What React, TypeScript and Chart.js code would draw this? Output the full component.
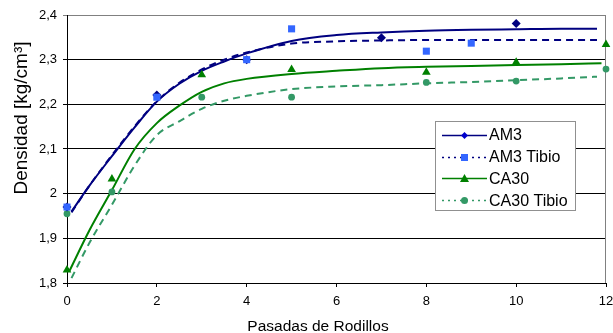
import React, { useEffect, useRef } from "react";
import { Chart, registerables } from "chart.js";

Chart.register(...registerables);

// ---- Data ----
const xTicks = [0, 2, 4, 6, 8, 10, 12];
const yTicks = [1.8, 1.9, 2.0, 2.1, 2.2, 2.3, 2.4];

const am3X = [0, 2, 4, 7, 10];
const am3Y = [1.97, 2.221, 2.3, 2.349, 2.381];

const am3TibioX = [0, 2, 4, 5, 8, 9];
const am3TibioY = [1.97, 2.216, 2.3, 2.369, 2.319, 2.337];

const ca30X = [0, 1, 3, 5, 8, 10, 12];
const ca30Y = [1.829, 2.033, 2.266, 2.278, 2.272, 2.294, 2.334];

const ca30TibioX = [0, 1, 3, 5, 8, 10, 12];
const ca30TibioY = [1.955, 2.004, 2.216, 2.216, 2.249, 2.252, 2.279];

// trend lines
const am3TrendX = [0.1, 0.5, 1, 1.5, 2, 2.5, 3, 3.5, 4, 5, 6, 7, 8, 9, 10, 11, 11.8];
const am3TrendY = [1.96, 2.018, 2.084, 2.148, 2.206, 2.246, 2.275, 2.296, 2.314, 2.342, 2.355, 2.361, 2.365, 2.367, 2.368, 2.369, 2.369];

const am3TibioTrendX = [0.1, 0.5, 1, 1.5, 2, 2.5, 3, 3.5, 4, 5, 6, 7, 8, 9, 10, 11, 11.8];
const am3TibioTrendY = [1.958, 2.018, 2.086, 2.15, 2.207, 2.248, 2.278, 2.3, 2.316, 2.336, 2.341, 2.343, 2.344, 2.344, 2.344, 2.344, 2.344];

const ca30TrendX = [0.05, 0.5, 1, 1.5, 2, 2.5, 3, 3.5, 4, 5, 6, 7, 8, 9, 10, 11, 11.9];
const ca30TrendY = [1.826, 1.918, 2.008, 2.099, 2.158, 2.197, 2.228, 2.247, 2.257, 2.268, 2.275, 2.281, 2.284, 2.286, 2.288, 2.29, 2.292];

const ca30TibioTrendX = [0.1, 0.5, 1, 1.5, 2, 2.5, 3, 3.5, 4, 5, 6, 7, 8, 9, 10, 11, 11.8];
const ca30TibioTrendY = [1.811, 1.89, 1.975, 2.062, 2.131, 2.162, 2.19, 2.208, 2.219, 2.234, 2.24, 2.243, 2.247, 2.25, 2.254, 2.258, 2.262];

const legendLabels = ["AM3", "AM3 Tibio", "CA30", "CA30 Tibio"];

const NAVY = "#000080";
const BLUE = "#3366FF";
const GREEN = "#008000";
const TEAL = "#339966";
const FONT = "'Liberation Sans', Arial, Helvetica, sans-serif";

const pts = (xs: number[], ys: number[]) => xs.map((x, i) => ({ x, y: ys[i] }));

function drawMarker(ctx: CanvasRenderingContext2D, kind: string, x: number, y: number, r: number, color: string) {
  ctx.save();
  ctx.fillStyle = color;
  ctx.beginPath();
  if (kind === "diamond") {
    ctx.moveTo(x, y - r);
    ctx.lineTo(x + r, y);
    ctx.lineTo(x, y + r);
    ctx.lineTo(x - r, y);
    ctx.closePath();
  } else if (kind === "square") {
    ctx.rect(x - r, y - r, 2 * r, 2 * r);
  } else if (kind === "triangle") {
    ctx.moveTo(x, y - r);
    ctx.lineTo(x + r, y + r * 0.75);
    ctx.lineTo(x - r, y + r * 0.75);
    ctx.closePath();
  } else {
    ctx.arc(x, y, r, 0, Math.PI * 2);
  }
  ctx.fill();
  ctx.restore();
}

const decorPlugin = {
  id: "decor",
  beforeDatasetsDraw(chart: any) {
    const { ctx, chartArea } = chart;
    ctx.save();
    ctx.strokeStyle = "#808080";
    ctx.lineWidth = 1;
    ctx.beginPath();
    ctx.moveTo(Math.round(chartArea.right) - 0.5, Math.round(chartArea.top) + 0.5);
    ctx.lineTo(Math.round(chartArea.right) - 0.5, Math.round(chartArea.bottom));
    ctx.stroke();
    ctx.restore();
  },
  afterDraw(chart: any) {
    const { ctx } = chart;
    ctx.save();

    // y title
    ctx.fillStyle = "#000";
    ctx.font = `19px ${FONT}`;
    ctx.save();
    ctx.translate(27, 118);
    ctx.rotate(-Math.PI / 2);
    ctx.textAlign = "center";
    ctx.textBaseline = "alphabetic";
    ctx.fillText("Densidad [kg/cm³]", 0, 0);
    ctx.restore();

    // x title
    ctx.font = `15.5px ${FONT}`;
    ctx.textAlign = "center";
    ctx.textBaseline = "alphabetic";
    ctx.fillText("Pasadas de Rodillos", 318, 331);

    // legend
    const lx = 435, ly = 121, lw = 140, lh = 89;
    ctx.fillStyle = "#fff";
    ctx.fillRect(lx, ly, lw, lh);
    ctx.strokeStyle = "#909090";
    ctx.lineWidth = 1;
    ctx.strokeRect(lx + 0.5, ly + 0.5, lw, lh);
    const items = [
      { color: NAVY, mcolor: "#0000CC", dash: [] as number[], kind: "diamond", r: 3.5 },
      { color: NAVY, mcolor: BLUE, dash: [2, 4], kind: "square", r: 3.5 },
      { color: GREEN, mcolor: GREEN, dash: [] as number[], kind: "triangle", r: 4.5 },
      { color: TEAL, mcolor: TEAL, dash: [2, 4], kind: "circle", r: 3.5 },
    ];
    items.forEach((it, i) => {
      const y = 135 + i * 21.7;
      ctx.save();
      ctx.strokeStyle = it.color;
      ctx.lineWidth = 1.5;
      ctx.setLineDash(it.dash);
      ctx.beginPath();
      ctx.moveTo(442, Math.round(y) + 0.5);
      ctx.lineTo(487, Math.round(y) + 0.5);
      ctx.stroke();
      ctx.restore();
      drawMarker(ctx, it.kind, 464.5, Math.round(y) + 0.5, it.r, it.mcolor);
      ctx.fillStyle = "#000";
      ctx.font = `16px ${FONT}`;
      ctx.textAlign = "left";
      ctx.textBaseline = "middle";
      ctx.fillText(legendLabels[i], 489, y + 1);
    });
    ctx.restore();
  },
};

const fmt = (v: number) => {
  const r = Math.round(v * 10) / 10;
  return String(r).replace(".", ",");
};

export default function App() {
  const ref = useRef<HTMLCanvasElement | null>(null);

  useEffect(() => {
    if (!ref.current) return;
    Chart.defaults.font.family = FONT;
    const chart = new Chart(ref.current, {
      type: "scatter",
      data: {
        datasets: [
          {
            label: "AM3 Tibio pts",
            data: pts(am3TibioX, am3TibioY),
            pointStyle: "rect",
            pointRadius: 5,
            backgroundColor: BLUE,
            borderColor: BLUE,
            borderWidth: 0,
            showLine: false,
            clip: false,
          },
          {
            label: "AM3 pts",
            data: pts(am3X, am3Y),
            pointStyle: "rectRot",
            pointRadius: 4.5,
            backgroundColor: NAVY,
            borderColor: NAVY,
            borderWidth: 0,
            showLine: false,
            clip: false,
          },
          {
            label: "CA30 pts",
            data: pts(ca30X, ca30Y),
            pointStyle: "triangle",
            pointRadius: 5,
            backgroundColor: GREEN,
            borderColor: GREEN,
            borderWidth: 0,
            showLine: false,
            clip: false,
          },
          {
            label: "CA30 Tibio pts",
            data: pts(ca30TibioX, ca30TibioY),
            pointStyle: "circle",
            pointRadius: 3.4,
            backgroundColor: TEAL,
            borderColor: TEAL,
            borderWidth: 0,
            showLine: false,
            clip: false,
          },
          {
            label: "AM3 trend",
            data: pts(am3TrendX, am3TrendY),
            showLine: true,
            pointRadius: 0,
            borderColor: NAVY,
            borderWidth: 2,
            cubicInterpolationMode: "monotone",
          },
          {
            label: "AM3 Tibio trend",
            data: pts(am3TibioTrendX, am3TibioTrendY),
            showLine: true,
            pointRadius: 0,
            borderColor: NAVY,
            borderWidth: 2,
            borderDash: [7, 5],
            cubicInterpolationMode: "monotone",
          },
          {
            label: "CA30 trend",
            data: pts(ca30TrendX, ca30TrendY),
            showLine: true,
            pointRadius: 0,
            borderColor: GREEN,
            borderWidth: 2,
            cubicInterpolationMode: "monotone",
          },
          {
            label: "CA30 Tibio trend",
            data: pts(ca30TibioTrendX, ca30TibioTrendY),
            showLine: true,
            pointRadius: 0,
            borderColor: TEAL,
            borderWidth: 2,
            borderDash: [7, 5],
            cubicInterpolationMode: "monotone",
          },
        ] as any,
      },
      options: {
        responsive: false,
        animation: false,
        layout: { padding: { top: 15, right: 7, left: 0, bottom: 0 } },
        plugins: {
          legend: { display: false },
          tooltip: { enabled: false },
        },
        scales: {
          x: {
            type: "linear",
            min: 0,
            max: 12,
            afterBuildTicks: (s: any) => {
              s.ticks = xTicks.map((v) => ({ value: v }));
            },
            ticks: {
              stepSize: 2,
              padding: 7,
              maxRotation: 0,
              color: "#000",
              font: { size: 13, family: FONT },
            },
            grid: { drawOnChartArea: false, drawTicks: true, tickLength: 4, color: "#000" },
            border: { color: "#000", width: 1 },
            afterFit: (s: any) => {
              s.height = 50;
              s.paddingLeft = 0;
              s.paddingRight = 0;
            },
          } as any,
          y: {
            type: "linear",
            min: 1.8,
            max: 2.4,
            afterBuildTicks: (s: any) => {
              s.ticks = yTicks.map((v) => ({ value: v }));
            },
            ticks: {
              padding: 6,
              color: "#000",
              font: { size: 13, family: FONT },
              callback: (v: any) => fmt(Number(v)),
            },
            grid: {
              tickLength: 4,
              color: (c: any) => (c.tick && Math.abs(c.tick.value - 2.4) < 1e-6 ? "#808080" : "#000"),
            },
            border: { color: "#000", width: 1 },
            afterFit: (s: any) => {
              s.width = 67;
              s.paddingTop = 0;
              s.paddingBottom = 0;
            },
          } as any,
        },
      },
      plugins: [decorPlugin],
    });
    return () => chart.destroy();
  }, []);

  return (
    <div style={{ position: "fixed", left: 0, top: 0, width: 613, height: 333, background: "#fff" }}>
      <canvas ref={ref} width={613} height={333} style={{ display: "block" }} />
    </div>
  );
}
